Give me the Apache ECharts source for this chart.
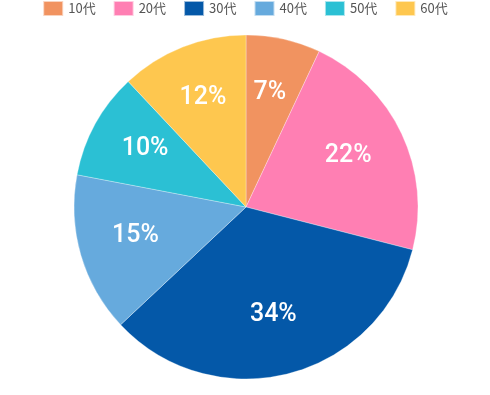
<!DOCTYPE html>
<html>
<head>
<meta charset="utf-8">
<style>
html,body{margin:0;padding:0;background:#fff;}
#chart{width:490px;height:395px;}
</style>
<script src="https://cdn.jsdelivr.net/npm/echarts@6/dist/echarts.min.js"></script>
</head>
<body>
<div id="chart"></div>
<script>
const categories = ['10代', '20代', '30代', '40代', '50代', '60代'];
const values = [7, 22, 34, 15, 10, 12];
const colors = ['#F19360', '#FF7FB3', '#0458A8', '#66AADD', '#2BC0D4', '#FEC74F'];

const chart = echarts.init(document.getElementById('chart'), null, {renderer: 'canvas'});
const data = categories.map((c, i) => ({name: c, value: values[i], itemStyle: {color: colors[i]}}));
const labelData = categories.map((c, i) => ({name: c, value: values[i]}));

chart.setOption({
  animation: false,
  legend: {
    top: 0,
    left: 'center',
    padding: [0, 5],
    itemWidth: 20,
    itemHeight: 15,
    itemGap: 17,
    icon: 'rect',
    textStyle: {color: '#555', fontSize: 13, fontFamily: 'Noto Sans CJK JP'},
    data: categories
  },
  series: [
    {
      type: 'pie',
      center: [246, 207],
      radius: [0, 172],
      startAngle: 90,
      clockwise: true,
      label: {show: false},
      labelLine: {show: false},
      itemStyle: {borderColor: 'rgba(255,255,255,0.6)', borderWidth: 0.5},
      emphasis: {disabled: true},
      data: data
    },
    {
      type: 'pie',
      center: [245, 204],
      radius: [50, 172],
      startAngle: 90,
      clockwise: true,
      silent: true,
      legendHoverLink: false,
      itemStyle: {color: 'rgba(0,0,0,0)'},
      label: {
        show: true,
        position: 'inside',
        formatter: '{c}%',
        color: '#fff',
        fontSize: 25,
        fontWeight: 500,
        fontFamily: 'Roboto'
      },
      labelLine: {show: false},
      emphasis: {disabled: true},
      data: labelData
    }
  ]
});
</script>
</body>
</html>
